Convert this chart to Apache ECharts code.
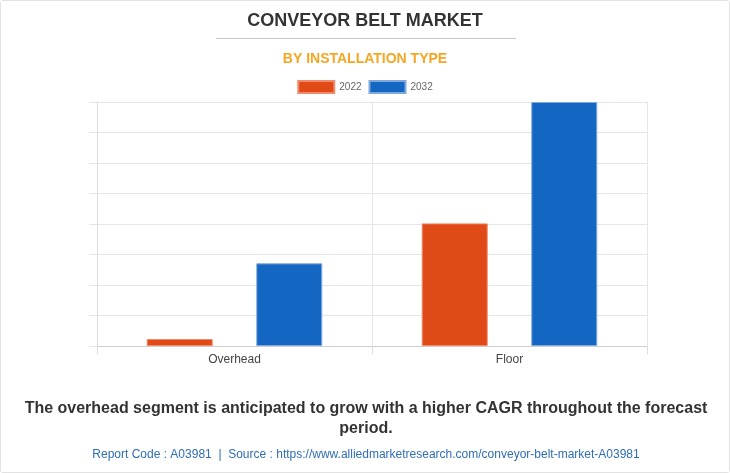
<!DOCTYPE html>
<html><head><meta charset="utf-8">
<script src="https://cdn.jsdelivr.net/npm/echarts@6/dist/echarts.min.js"></script>
<style>html,body{margin:0;padding:0;background:#fff;}#c{width:730px;height:473px;box-sizing:border-box;border:1px solid #e2e2e2;border-radius:3px;}</style>
</head><body><div id="c"></div>
<script>
const categories = ["Overhead", "Floor"];
const seriesNames = ["2022", "2032"];
const values2022 = [0.23, 4.02];
const values2032 = [2.71, 8.0];
const colors = ["#e04a16", "#1366c1"];

const chart = echarts.init(document.getElementById('c'), null, {renderer: 'canvas'});
const font = '"Liberation Sans", Arial, sans-serif';
chart.setOption({
  backgroundColor: '#fff',
  animation: false,
  title: [
    {text: 'CONVEYOR BELT MARKET', left: 'center', top: 6,
     textStyle: {fontFamily: font, fontSize: 18, fontWeight: 'bold', color: '#333'}},
    {text: 'BY INSTALLATION TYPE', left: 'center', top: 46,
     textStyle: {fontFamily: font, fontSize: 14, fontWeight: 'bold', color: '#f5a623'}}
  ],
  graphic: [
    {type: 'line', shape: {x1: 215, y1: 37.5, x2: 515, y2: 37.5}, style: {stroke: '#c8c8c8', lineWidth: 1}},
    {type: 'text', x: 365, y: 398, style: {
      text: 'The overhead segment is anticipated to grow with a higher CAGR throughout the forecast\nperiod.',
      textAlign: 'center', font: 'bold 16px "Liberation Sans", Arial, sans-serif', fill: '#333', lineHeight: 20}},
    {type: 'text', x: 365, y: 448, style: {
      text: 'Report Code : A03981  |  Source : https://www.alliedmarketresearch.com/conveyor-belt-market-A03981',
      textAlign: 'center', font: '12px "Liberation Sans", Arial, sans-serif', fill: '#2f6db5'}}
  ],
  legend: {
    top: 74, left: 'center', itemWidth: 36, itemHeight: 12, itemGap: 7, icon: 'rect',
    textStyle: {fontFamily: font, fontSize: 10, color: '#666'},
    data: seriesNames
  },
  grid: {left: 96, right: 82, top: 101, bottom: 126, containLabel: false},
  xAxis: {
    type: 'category', data: categories,
    axisLine: {show: true, lineStyle: {color: '#cfcfcf'}},
    axisTick: {show: true, length: 8, lineStyle: {color: '#dcdcdc'}},
    splitLine: {show: true, lineStyle: {color: '#e6e6e6'}},
    axisLabel: {fontFamily: font, fontSize: 12, color: '#444', margin: 8}
  },
  yAxis: {
    type: 'value', min: 0, max: 8, interval: 1,
    axisLine: {show: true, lineStyle: {color: '#dcdcdc'}},
    axisTick: {show: true, length: 8, lineStyle: {color: '#e6e6e6'}},
    axisLabel: {show: false},
    splitLine: {show: true, lineStyle: {color: '#e6e6e6'}}
  },
  series: [
    {name: seriesNames[0], type: 'bar', data: values2022, barWidth: 66, barGap: '66%',
     itemStyle: {color: colors[0], borderColor: '#f08a6a', borderWidth: 1}},
    {name: seriesNames[1], type: 'bar', data: values2032, barWidth: 66,
     itemStyle: {color: colors[1], borderColor: '#7fa9dc', borderWidth: 1}}
  ]
});
</script></body></html>
